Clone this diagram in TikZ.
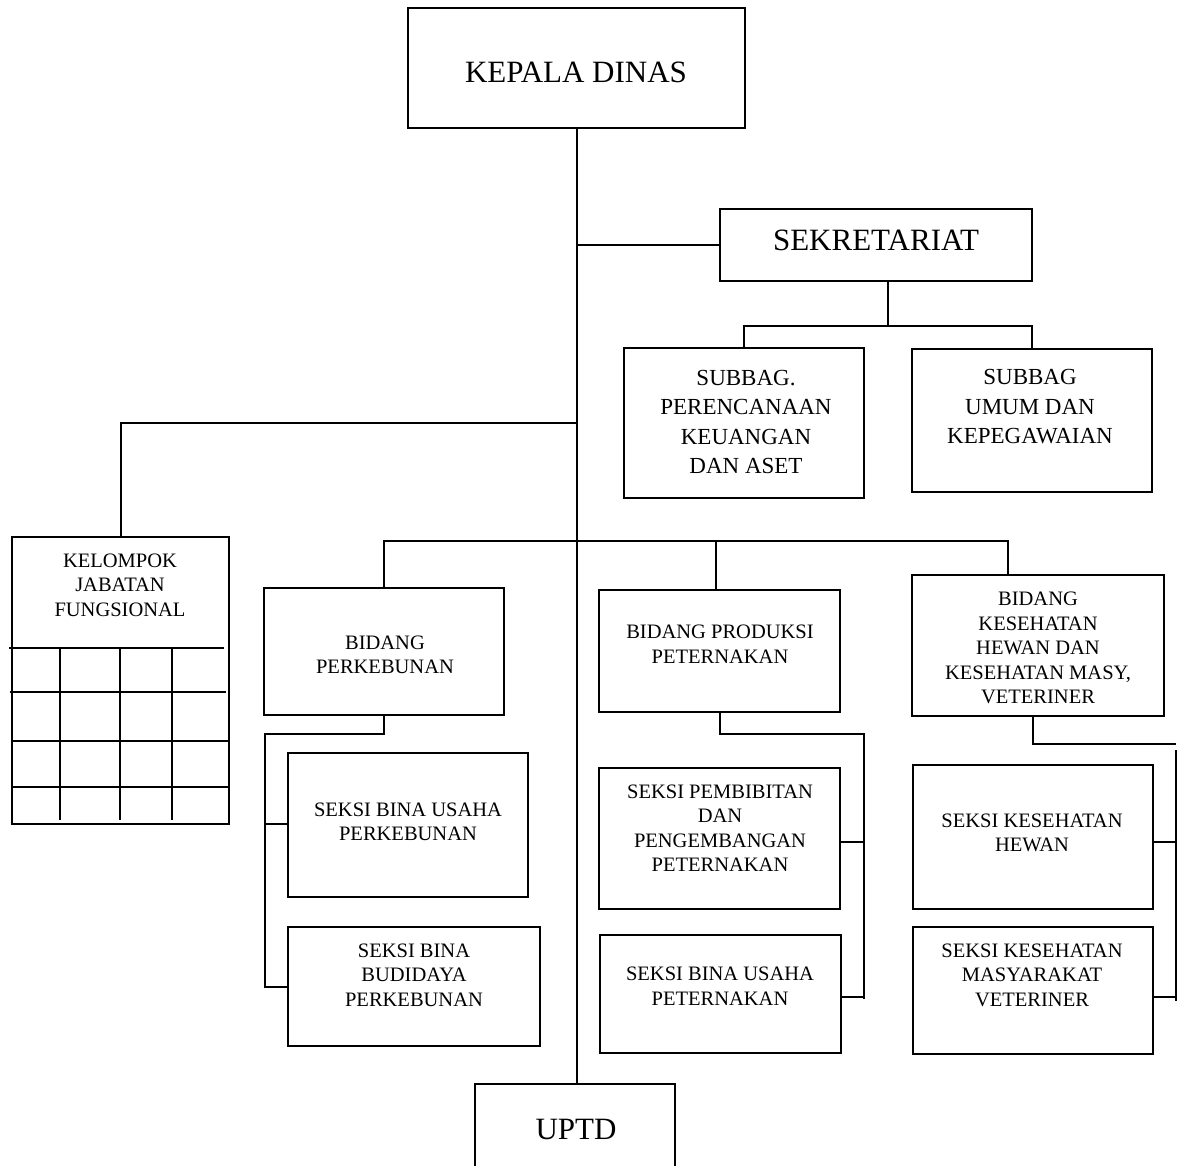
\documentclass[tikz,border=0pt]{standalone}
\usepackage{fontspec}
\setmainfont{Liberation Serif}
\begin{document}
\begin{tikzpicture}[x=1pt,y=-1pt,line width=2pt,
  box/.style={draw,rectangle,inner sep=0pt,outer sep=0pt},
  big/.style={font=\fontsize{31}{37}\selectfont,align=center,inner sep=0pt},
  mid/.style={font=\fontsize{23}{29.5}\selectfont,align=center,inner sep=0pt},
  sml/.style={font=\fontsize{20.5}{24.5}\selectfont,align=center,inner sep=0pt}]
\clip (0,0) rectangle (1181,1166);
\fill[white] (0,0) rectangle (1181,1166);

% boxes
\node[box,minimum width=337pt,minimum height=120pt] (kd) at (576.5,68) {};
\node[box,minimum width=312pt,minimum height=72pt] (sek) at (876,245) {};
\node[box,minimum width=240pt,minimum height=150pt] (sp) at (744,423) {};
\node[box,minimum width=240pt,minimum height=143pt] (su) at (1032,420.5) {};
\node[box,minimum width=217pt,minimum height=287pt] (kjf) at (120.5,680.5) {};
\node[box,minimum width=240pt,minimum height=127pt] (bp) at (384,651.5) {};
\node[box,minimum width=241pt,minimum height=122pt] (bpp) at (719.5,651) {};
\node[box,minimum width=252pt,minimum height=141pt] (bk) at (1038,645.5) {};
\node[box,minimum width=240pt,minimum height=144pt] (s1) at (408,825) {};
\node[box,minimum width=252pt,minimum height=119pt] (s2) at (414,986.5) {};
\node[box,minimum width=241pt,minimum height=141pt] (s3) at (719.5,838) {};
\node[box,minimum width=241pt,minimum height=118pt] (s4) at (720.5,994) {};
\node[box,minimum width=240pt,minimum height=144pt] (s5) at (1032.5,837) {};
\node[box,minimum width=240pt,minimum height=127pt] (s6) at (1032.5,990.5) {};
\node[box,minimum width=200pt,minimum height=116pt] (uptd) at (575,1142) {};

% texts
\node[big] (kd-t) at (576,72) {KEPALA DINAS};
\node[big] (sek-t) at (876,240) {SEKRETARIAT};
\node[mid] (sp-t) at (746,422) {SUBBAG.\\PERENCANAAN\\KEUANGAN\\DAN ASET};
\node[mid] (su-t) at (1030,407) {SUBBAG\\UMUM DAN\\KEPEGAWAIAN};
\node[sml] (kjf-t) at (120,585) {KELOMPOK\\JABATAN\\FUNGSIONAL};
\node[sml] (bp-t) at (385,655) {BIDANG\\PERKEBUNAN};
\node[sml] (bpp-t) at (720,644) {BIDANG PRODUKSI\\PETERNAKAN};
\node[sml] (bk-t) at (1038,648) {BIDANG\\KESEHATAN\\HEWAN DAN\\KESEHATAN MASY,\\VETERINER};
\node[sml] (s1-t) at (408,822) {SEKSI BINA USAHA\\PERKEBUNAN};
\node[sml] (s2-t) at (414,975) {SEKSI BINA\\BUDIDAYA\\PERKEBUNAN};
\node[sml] (s3-t) at (720,828) {SEKSI PEMBIBITAN\\DAN\\PENGEMBANGAN\\PETERNAKAN};
\node[sml] (s4-t) at (720,986) {SEKSI BINA USAHA\\PETERNAKAN};
\node[sml] (s5-t) at (1032,833) {SEKSI KESEHATAN\\HEWAN};
\node[sml] (s6-t) at (1032,975) {SEKSI KESEHATAN\\MASYARAKAT\\VETERINER};
\node[big] (uptd-t) at (576,1129) {UPTD};

% grid of the functional group box
\draw (9,648) -- (224,648);
\draw (10,692) -- (226,692);
\draw (12,741) -- (229,741);
\draw (12,787) -- (229,787);
\foreach \gx in {60,120,172} \draw (\gx,648) -- (\gx,820);

% bend points
\coordinate (kbar) at (576,423);
\coordinate (sbar) at (888,326);
\coordinate (bbarR) at (1008,541);
\coordinate (bdrop) at (716,541);
\coordinate (pkB) at (265,734);
\coordinate (pkC) at (265,824);
\coordinate (pkD) at (265,987);
\coordinate (ptB) at (864,734);
\coordinate (ptC) at (864,842);
\coordinate (ptD) at (864,999);
\coordinate (ptE) at (864,997);
\coordinate (kvA) at (1033,744);
\coordinate (kvB) at (1176,744);
\coordinate (kvC) at (1176,750);
\coordinate (kvD) at (1176,842);
\coordinate (kvE) at (1176,1001);
\coordinate (kvF) at (1176,997);

% connectors
\draw (kd.south) -- (kd.south |- uptd.north);
\draw (kd.south |- sek.west) -- (sek.west);
\draw (sek.south -| sbar) -- (sbar);
\draw (sp.north) |- (sbar) -| (su.north);
\draw (kbar) -| (kjf.north);
\draw (bp.north) |- (bbarR) -- (bbarR |- bk.north);
\draw (bdrop) -- (bdrop |- bpp.north);
\draw (bp.south) |- (pkB) -- (pkD) -- (pkD -| s2.west);
\draw (pkC) -- (pkC -| s1.west);
\draw (bpp.south) |- (ptB) -- (ptD);
\draw (ptC) -- (ptC -| s3.east);
\draw (ptE) -- (ptE -| s4.east);
\draw (bk.south -| kvA) |- (kvB);
\draw (kvC) -- (kvE);
\draw (kvD -| s5.east) -- (kvD);
\draw (kvF -| s6.east) -- (kvF);
\end{tikzpicture}
\end{document}
